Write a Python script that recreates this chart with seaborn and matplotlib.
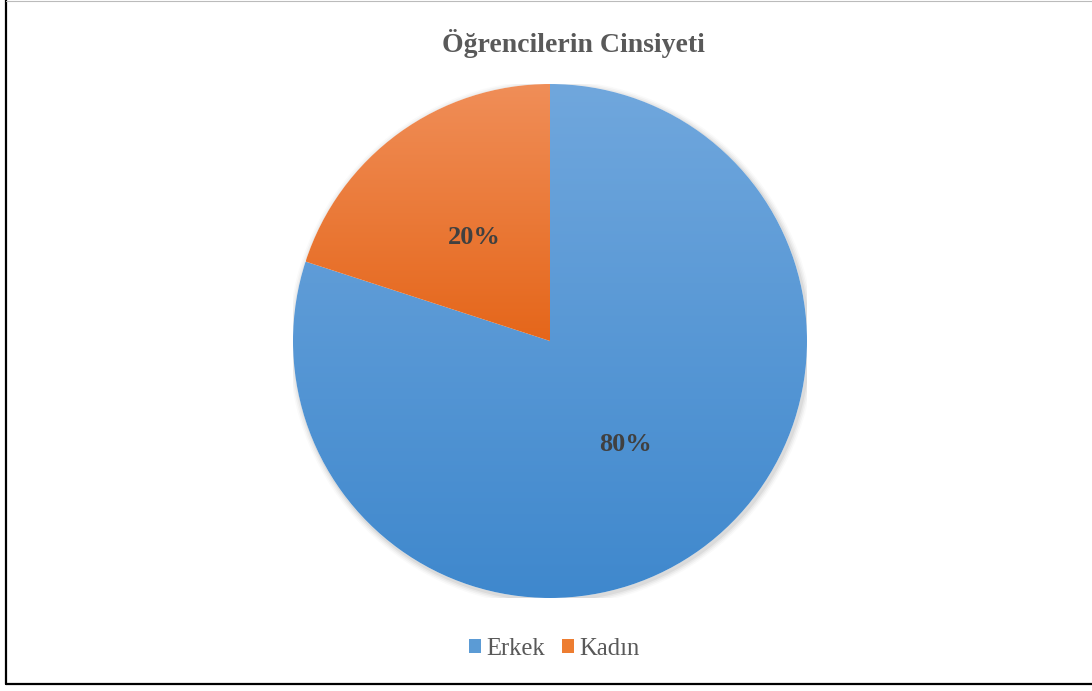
import numpy as np
import pandas as pd
import matplotlib
matplotlib.use("Agg")
import matplotlib.pyplot as plt
import seaborn as sns
from matplotlib.colors import LinearSegmentedColormap
from matplotlib.lines import Line2D
from matplotlib.patches import Patch, Circle

# data
labels = ["Erkek", "Kadın"]
shares = [80, 20]
top_colors = ["#70A7DD", "#F08E58"]
bottom_colors = ["#3F88CD", "#E5661A"]
legend_colors = ["#5B9BD5", "#ED7D31"]

df = pd.DataFrame({"cinsiyet": labels, "oran": shares})

sns.set_theme(style="white")
plt.rcParams["font.family"] = ["Liberation Serif", "DejaVu Serif"]

W, H = 1092, 691
fig = plt.figure(figsize=(W / 100, H / 100), dpi=100)
fig.patch.set_facecolor("white")

# pie centre (550, 341) px, radius 257 px
cx, cy, r = 550, 341, 257
ax = fig.add_axes([(cx - r) / W, 1 - (cy + r) / H, 2 * r / W, 2 * r / H])

wedges, texts, autotexts = ax.pie(
    df["oran"], startangle=90, counterclock=False,
    autopct="%1.0f%%", pctdistance=0.5, radius=1,
    textprops=dict(fontsize=19, fontweight="bold", color="#404040"),
)

# soft shadow
for i, a in enumerate([0.05, 0.04, 0.03, 0.02]):
    ax.add_patch(Circle((0.006, -0.008), 1.0 + 0.006 * (i + 1), color="#000000",
                        alpha=a, zorder=-2, lw=0))

# vertical gradient inside each slice
for w, c_top, c_bot in zip(wedges, top_colors, bottom_colors):
    w.set_facecolor("none")
    w.set_edgecolor("none")
    ext = w.get_path().get_extents()
    cmap = LinearSegmentedColormap.from_list("g", [c_bot, c_top])
    grad = np.linspace(0, 1, 256).reshape(-1, 1)
    im = ax.imshow(grad, cmap=cmap, origin="lower", aspect="auto",
                   extent=[ext.x0, ext.x1, ext.y0, ext.y1], zorder=0)
    im.set_clip_path(w)

ax.add_patch(Circle((0, 0), 1.0, color="white", zorder=-1, lw=0))
ax.set_xlim(-1, 1)
ax.set_ylim(-1, 1)
ax.axis("off")

fig.text(573 / W, 1 - 44 / H, "Öğrencilerin Cinsiyeti", ha="center", va="center",
         fontsize=20, fontweight="bold", color="#595959")

handles = [Patch(facecolor=c, edgecolor="none") for c in legend_colors]
fig.legend(handles, labels, loc="center", bbox_to_anchor=(554 / W, 1 - 649 / H),
           ncol=2, frameon=False, fontsize=17.7, handlelength=0.5,
           handleheight=0.5, handletextpad=0.2, columnspacing=0.7,
           labelcolor="#595959")

# outer frame
fig.add_artist(Line2D([6 / W, 6 / W], [1, 1 - 684 / H], transform=fig.transFigure,
                      color="black", lw=1.6))
fig.add_artist(Line2D([6 / W, 1], [1 - 684 / H, 1 - 684 / H], transform=fig.transFigure,
                      color="black", lw=1.6))
fig.add_artist(Line2D([6 / W, 1], [1 - 1 / H, 1 - 1 / H], transform=fig.transFigure,
                      color="#BBBBBB", lw=0.8))

fig.savefig("out.png", dpi=100)
